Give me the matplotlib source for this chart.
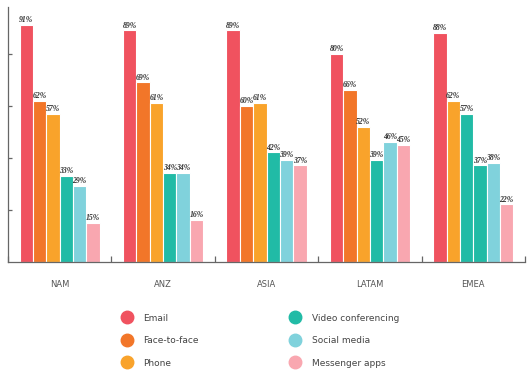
import matplotlib
matplotlib.use("Agg")
import matplotlib.pyplot as plt
from matplotlib.lines import Line2D
import numpy as np

regions = ["NAM", "ANZ", "ASIA", "LATAM", "EMEA"]
series = ["Email", "Face-to-face", "Phone", "Video conferencing", "Social media", "Messenger apps"]
email = [91, 89, 89, 80, 88]
face = [62, 69, 60, 66, 62]
phone = [57, 61, 61, 52, 57]
video = [33, 34, 42, 39, 37]
social = [29, 34, 39, 46, 38]
messenger = [15, 16, 37, 45, 22]
values = [email, face, phone, video, social, messenger]

RED, ORANGE, YELLOW, TEAL, CYAN, PINK = "#F0525F", "#F27629", "#F9A32B", "#21BBA6", "#80D2DC", "#F9A7B0"
series_colors = [RED, ORANGE, YELLOW, TEAL, CYAN, PINK]
# bar colors as they appear in the reference (EMEA group is shifted)
bar_colors = [series_colors] * 4 + [[RED, YELLOW, TEAL, TEAL, CYAN, PINK]]

fig = plt.figure(figsize=(5.31, 3.74), dpi=100)
ax = fig.add_axes([8/531, 1-261.6/374, (525-8)/531, (261.6-7)/374])

x = np.arange(len(regions))
slot = 0.129
for i, vals in enumerate(values):
    pos = x + (i - 2.5) * slot
    cols = [bar_colors[g][i] for g in range(len(regions))]
    ax.bar(pos, vals, width=slot, color=cols, edgecolor="white", linewidth=0.8)
    for p, v in zip(pos, vals):
        ax.annotate(f"{v}%", (p, v), xytext=(0, 0.6), textcoords="offset points",
                    ha="center", va="bottom", fontsize=5.6, fontstyle="italic",
                    fontweight="bold", family="Liberation Serif", color="#333333")

ax.set_xlim(-0.5, len(regions) - 0.5)
ax.set_ylim(0, 98)
ax.set_xticks(x)
ax.set_xticklabels(regions, fontsize=6, color="#555555")
ax.tick_params(axis="x", which="major", length=0, pad=13)
ax.set_xticks(np.arange(len(regions) + 1) - 0.5, minor=True)
ax.tick_params(axis="x", which="minor", direction="in", length=4, color="#666666", width=0.9)
ax.set_yticks([20, 40, 60, 80])
ax.set_yticklabels([])
ax.tick_params(axis="y", direction="in", length=3, color="#666666", width=0.9)
for s in ["top", "right"]:
    ax.spines[s].set_visible(False)
for s in ["left", "bottom"]:
    ax.spines[s].set_color("#666666")
    ax.spines[s].set_linewidth(0.9)

handles = [Line2D([], [], marker="o", linestyle="none", markersize=9,
                  markerfacecolor=c, markeredgecolor=c) for c in series_colors]
fig.legend(handles, series, ncol=2, loc="upper left", bbox_to_anchor=(117/531, 1-309/374),
           frameon=False, fontsize=6.5, labelcolor="#444444", handletextpad=1.2,
           columnspacing=10.1, labelspacing=1.5, borderpad=0, handlelength=1.2)

fig.savefig("out.png", dpi=100)
